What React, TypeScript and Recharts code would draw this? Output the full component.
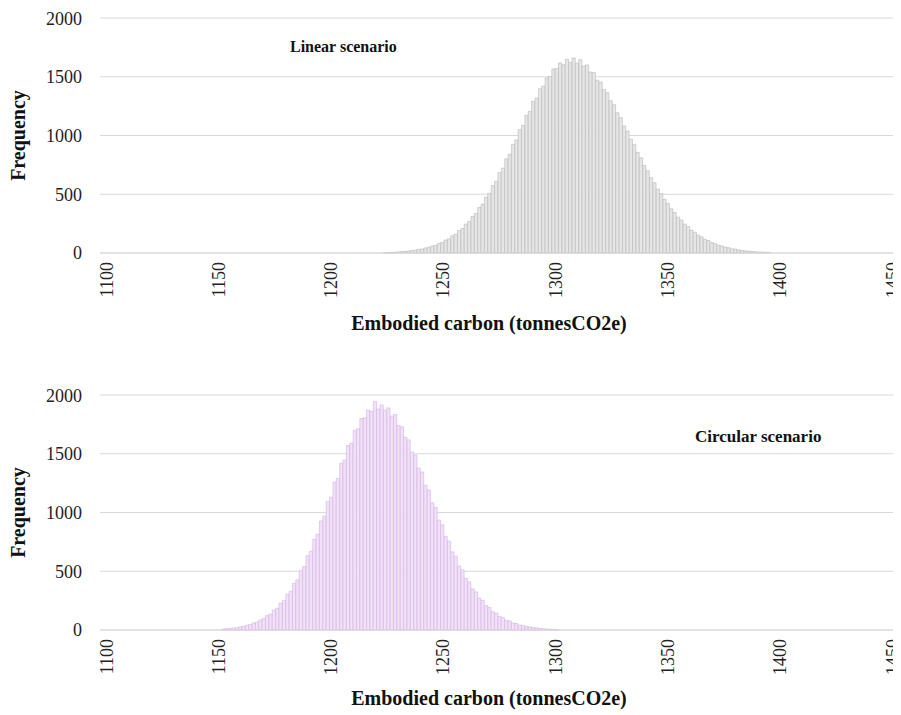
import React from "react";
import { BarChart, Bar, XAxis, YAxis, CartesianGrid } from "recharts";

// histogram bins: start of first bin centre and bin width (tonnesCO2e)
const LINEAR_START = 1224;
const CIRCULAR_START = 1152;
const BIN_WIDTH = 1.5;

const linearFreq = [
  3, 4, 6, 7, 9, 12, 13, 17, 22, 24, 31, 34, 43, 49, 60, 66, 82, 90, 111, 121,
  146, 160, 191, 209, 246, 268, 311, 336, 388, 417, 475, 508, 574, 610, 684, 722, 801, 840, 925, 962,
  1050, 1085, 1172, 1205, 1290, 1318, 1398, 1420, 1490, 1503, 1566, 1570, 1618, 1602, 1648, 1622,
  1660, 1615, 1645, 1590, 1600, 1540, 1535, 1472, 1455, 1392, 1364, 1296, 1262, 1193, 1152, 1082,
  1038, 969, 922, 856, 810, 745, 700, 640, 598, 544, 505, 456, 421, 376, 346, 305, 280, 246, 224,
  194, 177, 152, 138, 117, 106, 89, 80, 67, 60, 49, 45, 36, 33, 26, 23, 18, 16, 13, 11, 8, 8, 6, 5,
];

const circularFreq = [
  8, 11, 13, 17, 20, 27, 31, 40, 47, 60, 68, 86, 97, 122, 135, 169, 186, 229, 250, 305,
  330, 397, 426, 505, 540, 632, 670, 772, 815, 928, 968, 1092, 1130, 1258, 1290, 1420, 1446, 1570,
  1590, 1700, 1712, 1800, 1806, 1872, 1860, 1945, 1880, 1915, 1870, 1890, 1820, 1835, 1740, 1730,
  1640, 1618, 1515, 1488, 1378, 1345, 1232, 1192, 1082, 1042, 936, 895, 796, 755, 665, 628, 545,
  512, 440, 410, 350, 324, 272, 252, 208, 192, 156, 144, 116, 106, 84, 77, 60, 55, 42, 38, 29, 27,
  20, 18, 13, 11, 8, 7, 5, 4,
];

const xTicks = [1100, 1150, 1200, 1250, 1300, 1350, 1400, 1450];
const yTicks = [0, 500, 1000, 1500, 2000];

const toRows = (start: number, freq: number[]) =>
  freq.map((f, i) => ({ x: start + i * BIN_WIDTH, f }));

const FONT = '"Liberation Serif", "Times New Roman", serif';

const RotTick = (props: any) => {
  const { x, y, payload } = props;
  return (
    <text
      x={x}
      y={y}
      transform={`rotate(-90, ${x}, ${y})`}
      textAnchor="end"
      dominantBaseline="central"
      style={{ fontFamily: FONT, fontSize: 18 }}
      fill="#222"
    >
      {payload.value}
    </text>
  );
};

function Histogram({ data, fill, stroke }: { data: any[]; fill: string; stroke: string }) {
  return (
    <BarChart
      width={893}
      height={305}
      data={data}
      margin={{ top: 10, right: 4, left: 0, bottom: 0 }}
      style={{ fontFamily: FONT }}
    >
      <CartesianGrid vertical={false} stroke="#d9d9d9" />
      <XAxis
        dataKey="x"
        type="number"
        domain={[1097, 1452]}
        ticks={xTicks}
        interval={0}
        height={60}
        tickSize={0}
        tickMargin={9}
        axisLine={{ stroke: "#d9d9d9" }}
        tick={<RotTick />}
      />
      <YAxis
        domain={[0, 2000]}
        ticks={yTicks}
        width={92}
        axisLine={false}
        tickLine={false}
        tickSize={0}
        tickMargin={18}
        tick={{ fontSize: 18, fill: "#222", style: { fontFamily: FONT } }}
        label={{
          value: "Frequency",
          angle: -90,
          position: "insideLeft",
          offset: 10,
          style: { textAnchor: "middle", fontFamily: FONT, fontSize: 20, fontWeight: "bold", fill: "#111" },
        }}
      />
      <Bar dataKey="f" fill={fill} stroke={stroke} strokeWidth={0.6} barSize={3.2} isAnimationActive={false} />
    </BarChart>
  );
}

const textStyle: React.CSSProperties = {
  position: "absolute",
  fontFamily: FONT,
  fontWeight: "bold",
  color: "#111",
  whiteSpace: "nowrap",
};

export default function App() {
  return (
    <div style={{ position: "relative", width: 893, height: 707 }}>
      <div style={{ position: "absolute", left: 0, top: 0 }}>
        <Histogram data={toRows(LINEAR_START, linearFreq)} fill="#e6e6e6" stroke="#b8b8b8" />
      </div>
      <div style={{ position: "absolute", left: 0, top: 377 }}>
        <Histogram data={toRows(CIRCULAR_START, circularFreq)} fill="#f2e2f7" stroke="#d4b0e6" />
      </div>
      <div style={{ ...textStyle, left: 282, top: 30, fontSize: 16 }}>Linear scenario</div>
      <div style={{ ...textStyle, left: 687, top: 419, fontSize: 17 }}>Circular scenario</div>
      <div style={{ ...textStyle, left: 0, width: 962, textAlign: "center", top: 304, fontSize: 20 }}>
        Embodied carbon (tonnesCO2e)
      </div>
      <div style={{ ...textStyle, left: 0, width: 962, textAlign: "center", top: 679, fontSize: 20 }}>
        Embodied carbon (tonnesCO2e)
      </div>
    </div>
  );
}
